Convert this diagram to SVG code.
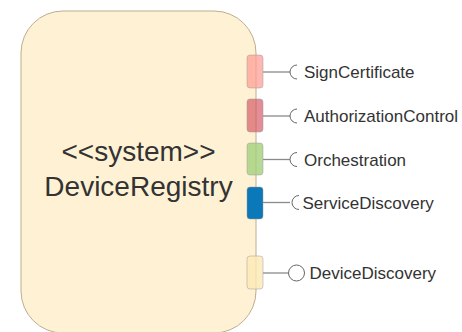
<svg xmlns="http://www.w3.org/2000/svg" width="462" height="332" viewBox="0 0 462 332">
<style>
.lbl{font-family:"Liberation Sans",Arial,sans-serif;font-size:17px;fill:#333}
.main{font-family:"Liberation Sans",Arial,sans-serif;font-size:28px;fill:#333;text-anchor:middle}
.port{stroke:#9a9a9a;stroke-width:0.8;stroke-opacity:0.6}
.wire{stroke:#8a8a8a;stroke-width:1.3;fill:none}
.sock{stroke:#666;stroke-width:1;fill:none}
</style>
<rect width="462" height="332" fill="#ffffff"/>
<g id="DeviceRegistry">
<rect x="21" y="11" width="235" height="322" rx="42" ry="42" fill="#fff2d4" stroke="#bcae8f" stroke-width="1"/>
<text class="main" x="138.5" y="161">&lt;&lt;system&gt;&gt;</text>
<text class="main" x="138.5" y="196">DeviceRegistry</text>
</g>
<g id="connectors">
<line class="wire" x1="263" y1="72" x2="290" y2="72"/>
<line class="wire" x1="263" y1="116" x2="290" y2="116"/>
<line class="wire" x1="263" y1="159.5" x2="290" y2="159.5"/>
<line class="wire" x1="263" y1="202.5" x2="290" y2="202.5"/>
<line class="wire" x1="263" y1="273" x2="288" y2="273" stroke="#c8c8c8"/>
</g>
<g id="SignCertificate">
<rect class="port" x="247" y="55" width="16" height="33" rx="3" fill="#ff9f97" fill-opacity="0.75"/>
<path class="sock" d="M297 65 A7 7 0 0 0 297 79"/>
<text class="lbl" x="304" y="78">SignCertificate</text>
</g>
<g id="AuthorizationControl">
<rect class="port" x="247" y="99" width="16" height="33" rx="3" fill="#d4525f" fill-opacity="0.65"/>
<path class="sock" d="M297 109 A7 7 0 0 0 297 123"/>
<text class="lbl" x="304" y="122">AuthorizationControl</text>
</g>
<g id="Orchestration">
<rect class="port" x="247" y="143" width="16" height="32" rx="3" fill="#a4cf7c" fill-opacity="0.8"/>
<path class="sock" d="M297 152.5 A7 7 0 0 0 297 166.5"/>
<text class="lbl" x="304" y="165.5">Orchestration</text>
</g>
<g id="ServiceDiscovery">
<rect class="port" x="247" y="187" width="16" height="32" rx="3" fill="#0b78b9"/>
<path class="sock" d="M299 195.5 A7 7 0 0 0 299 209.5"/>
<text class="lbl" x="302.5" y="208.5">ServiceDiscovery</text>
</g>
<g id="DeviceDiscovery">
<rect class="port" x="247" y="256" width="16" height="33" rx="3" fill="#fde9b4" fill-opacity="0.8"/>
<circle cx="296.5" cy="273" r="8" fill="#ffffff" stroke="#666" stroke-width="1"/>
<text class="lbl" x="309.5" y="279">DeviceDiscovery</text>
</g>
</svg>
